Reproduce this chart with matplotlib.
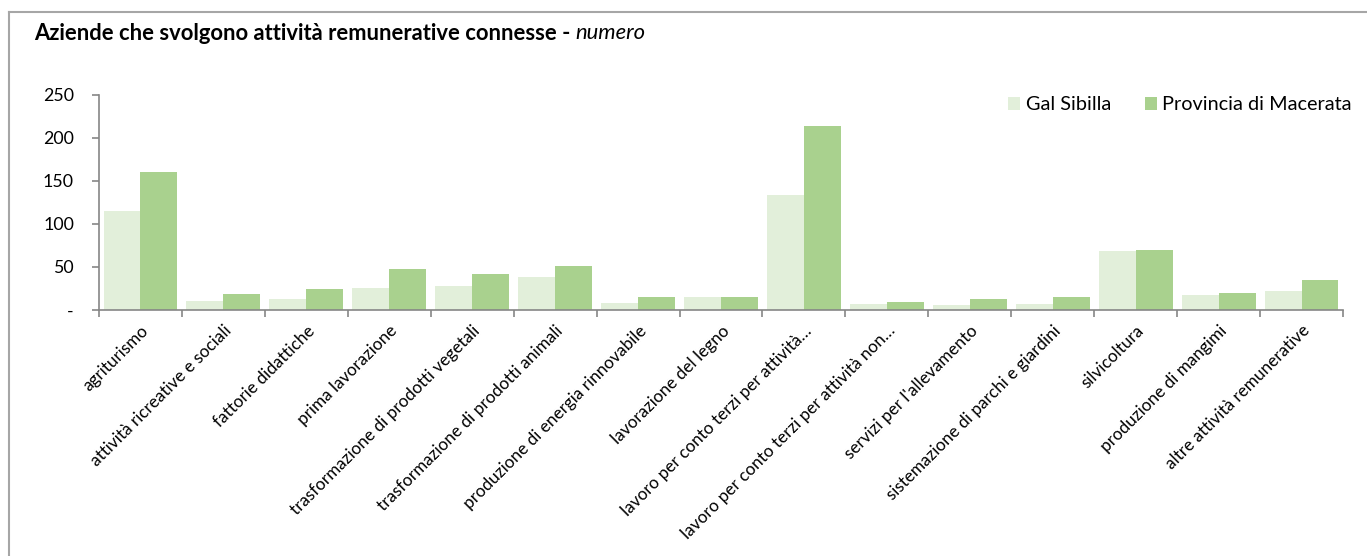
import matplotlib
matplotlib.use("Agg")
import matplotlib.pyplot as plt
import numpy as np
from matplotlib.lines import Line2D

plt.rcParams['font.family'] = ['Lato', 'DejaVu Sans']

title_main = "Aziende che svolgono attività remunerative connesse - "
title_unit = "numero"

categories = [
    "agriturismo",
    "attività ricreative e sociali",
    "fattorie didattiche",
    "prima lavorazione",
    "trasformazione di prodotti vegetali",
    "trasformazione di prodotti animali",
    "produzione di energia rinnovabile",
    "lavorazione del legno",
    "lavoro per conto terzi per attività…",
    "lavoro per conto terzi per attività non…",
    "servizi per l'allevamento",
    "sistemazione di parchi e giardini",
    "silvicoltura",
    "produzione di mangimi",
    "altre attività remunerative",
]
series_names = ["Gal Sibilla", "Provincia di Macerata"]
gal_sibilla = [115, 11, 13, 25, 28, 38, 8, 15, 133, 7, 6, 7, 68, 17, 22]
provincia_macerata = [160, 19, 24, 48, 42, 51, 15, 15, 214, 9, 13, 15, 70, 20, 35]
y_ticks = [0, 50, 100, 150, 200, 250]
y_tick_labels = ["-", "50", "100", "150", "200", "250"]

W, H = 1367, 556
fig = plt.figure(figsize=(W / 100, H / 100), dpi=100)
fig.patch.set_facecolor("white")

# outer frame (top and left edges visible)
fig.add_artist(Line2D([9 / W, 9 / W], [0, 1 - 12 / H], transform=fig.transFigure,
                      color="#a6a6a6", lw=1.5))
fig.add_artist(Line2D([9 / W, 1], [1 - 12 / H, 1 - 12 / H], transform=fig.transFigure,
                      color="#a6a6a6", lw=1.5))

ax_left, ax_right = 99 / W, 1343 / W
ax_bottom, ax_top = (H - 310) / H, (H - 94.7) / H
ax = fig.add_axes([ax_left, ax_bottom, ax_right - ax_left, ax_top - ax_bottom])

x = np.arange(len(categories))
bw = 0.445
c_light = "#E2EFDA"
c_dark = "#A9D18E"
b1 = ax.bar(x - bw / 2, gal_sibilla, bw, color=c_light, label=series_names[0], zorder=2)
b2 = ax.bar(x + bw / 2, provincia_macerata, bw, color=c_dark, label=series_names[1], zorder=2)

ax.set_xlim(-0.5, len(categories) - 0.5)
ax.set_ylim(0, 250)
for s in ["top", "right"]:
    ax.spines[s].set_visible(False)
for s in ["left", "bottom"]:
    ax.spines[s].set_color("#868686")
    ax.spines[s].set_linewidth(1.2)

ax.set_yticks(y_ticks)
ax.set_yticklabels(y_tick_labels, fontsize=12.8, color="#000000")
ax.tick_params(axis="y", length=5, color="#868686", width=1.2, pad=13)

ax.set_xticks(x)
ax.set_xticklabels(categories, rotation=45, ha="right", va="top",
                   rotation_mode="anchor", fontsize=12.3)
ax.tick_params(axis="x", length=0, pad=9)
ax.set_xticks(np.arange(-0.5, len(categories) + 0.5, 1), minor=True)
ax.tick_params(axis="x", which="minor", length=5, color="#868686", width=1.2)

fig.text(34 / W, 1 - 33 / H, title_main, fontsize=15.8, fontweight="bold",
         ha="left", va="center")
# italic unit appended after bold part
r = fig.canvas.get_renderer()
t0 = fig.texts[-1]
bb = t0.get_window_extent(renderer=r)
fig.text(bb.x1 / W, 1 - 33 / H, title_unit, fontsize=15.8, fontstyle="italic",
         ha="left", va="center")

leg = fig.legend(handles=[b1, b2], labels=series_names, ncol=2, frameon=False,
                 loc="center right", bbox_to_anchor=(1352 / W, 1 - 105 / H),
                 fontsize=14.3, handlelength=0.6, handleheight=0.6,
                 handletextpad=0.3, columnspacing=1.7, borderaxespad=0,
                 borderpad=0)

fig.savefig("out.png", dpi=100, facecolor="white")
